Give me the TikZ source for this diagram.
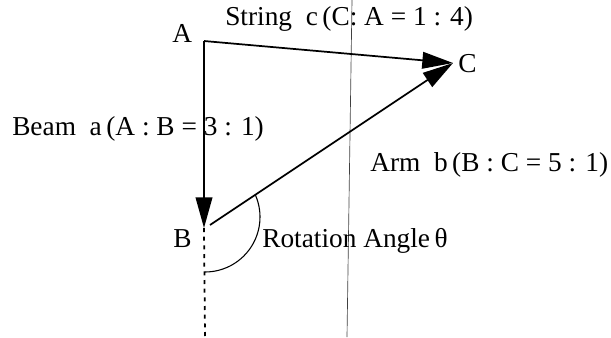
\documentclass[tikz,border=0pt]{standalone}
\usepackage{fontspec}
\setmainfont{Liberation Serif}
\usetikzlibrary{arrows.meta}
\begin{document}
\begin{tikzpicture}[x=0.75pt,y=-0.75pt,
  lbl/.style={anchor=base west,inner sep=0pt,font=\fontsize{20.5}{22}\selectfont},
  vec/.style={line width=1.3pt,-{Triangle[length=23pt,width=12.5pt]}},
  guide/.style={line width=0.5pt,black!75},
  dotline/.style={line width=1.3pt,dash pattern=on 3pt off 3.5pt}]
\useasboundingbox (0,0) rectangle (611,337);
% points
\coordinate (A) at (204,41);
\coordinate (B) at (204,228);
\coordinate (Bs) at (210,225);
\coordinate (C) at (453,63);
\coordinate (Bend) at (205,337);
\coordinate (Vt) at (352,0);
\coordinate (Vb) at (347,337);
\coordinate (Oc) at (205,217);
% guide line
\draw[guide] (Vt) -- (Vb);
% connectors
\draw[vec] (A) -- (C);
\draw[vec] (A) -- (B);
\draw[vec] (Bs) -- (C);
\draw[dotline] (B) -- (Bend);
% angle arc
\draw[line width=0.8pt] (Oc) ++(-24:55) arc[start angle=-24,end angle=90,radius=55];
% labels
\node[lbl] (lA) at (172,42) {A};
\node[lbl] (lB) at (173,247) {B};
\node[lbl] (lC) at (458,72) {C};
\node[lbl] (ls) at (225,25) {String\ \ c\,(C: A = 1 : 4)};
\node[lbl] (lb) at (12,135) {Beam\ \ a\,(A : B = 3 : 1)};
\node[lbl] (la) at (370,171) {Arm\ \ b\,(B : C = 5 : 1)};
\node[lbl] (lr) at (262,247) {Rotation Angle\,θ};
\end{tikzpicture}
\end{document}
